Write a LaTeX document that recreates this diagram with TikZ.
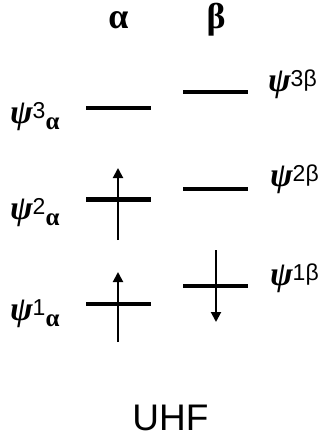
\documentclass[tikz,border=0pt]{standalone}
\usepackage{fontspec}
\usetikzlibrary{arrows.meta}
\newfontfamily\lsans{Liberation Sans}
\newfontfamily\lserif{Liberation Serif}
\newcommand{\orblab}[3]{{\fontsize{34}{38}\selectfont\lserif\bfseries\itshape ψ}\raisebox{5pt}{\fontsize{23}{26}\selectfont\lsans #1#2}\raisebox{-6pt}{\fontsize{25}{28}\selectfont\lserif\bfseries #3}}
\tikzset{
  level/.style={line width=4.5pt},
  spin/.style={line width=2pt,-{Triangle[length=10pt,width=10pt]}},
  lab/.style={anchor=base west,inner sep=0pt,outer sep=0pt},
  head/.style={anchor=base,inner sep=0pt,font=\fontsize{36}{40}\selectfont\lserif\bfseries},
}
\begin{document}
\begin{tikzpicture}[x=1pt,y=-1pt]
\fill[white] (0,0) rectangle (329,439);
\useasboundingbox (0,0) rectangle (329,439);
% headers
\node[head] (ha) at (118.5,28) {α};
\node[head] (hb) at (216,28) {β};
% alpha levels
\coordinate (a3l) at (86,108);  \coordinate (a3r) at (151,108);
\coordinate (a2l) at (86,199.5);\coordinate (a2r) at (151,199.5);
\coordinate (a1l) at (86,304);  \coordinate (a1r) at (151,304);
% beta levels
\coordinate (b3l) at (183,92);  \coordinate (b3r) at (248,92);
\coordinate (b2l) at (183,189); \coordinate (b2r) at (248,189);
\coordinate (b1l) at (183,286); \coordinate (b1r) at (248,286);
\draw[level] (a3l) -- (a3r);
\draw[level] (a2l) -- (a2r);
\draw[level] (a1l) -- (a1r);
\draw[level] (b3l) -- (b3r);
\draw[level] (b2l) -- (b2r);
\draw[level] (b1l) -- (b1r);
% spins
\coordinate (s2s) at (118,240); \coordinate (s2e) at (118,168);
\coordinate (s1s) at (118,342); \coordinate (s1e) at (118,272);
\coordinate (t1s) at (216,250); \coordinate (t1e) at (216,322);
\draw[spin] (s2s) -- (s2e);
\draw[spin] (s1s) -- (s1e);
\draw[spin] (t1s) -- (t1e);
% labels
\node[lab] (la3) at (10,123) {\orblab{3}{}{α}};
\node[lab] (la2) at (10,219) {\orblab{2}{}{α}};
\node[lab] (la1) at (10,320) {\orblab{1}{}{α}};
\node[lab] (lb3) at (268,91) {\orblab{3}{β}{}};
\node[lab] (lb2) at (270,186) {\orblab{2}{β}{}};
\node[lab] (lb1) at (270,285) {\orblab{1}{β}{}};
% title
\node[anchor=base,inner sep=0pt,font=\fontsize{37}{40}\selectfont\lsans] (uhf) at (170.5,430) {UHF};
\end{tikzpicture}
\end{document}
